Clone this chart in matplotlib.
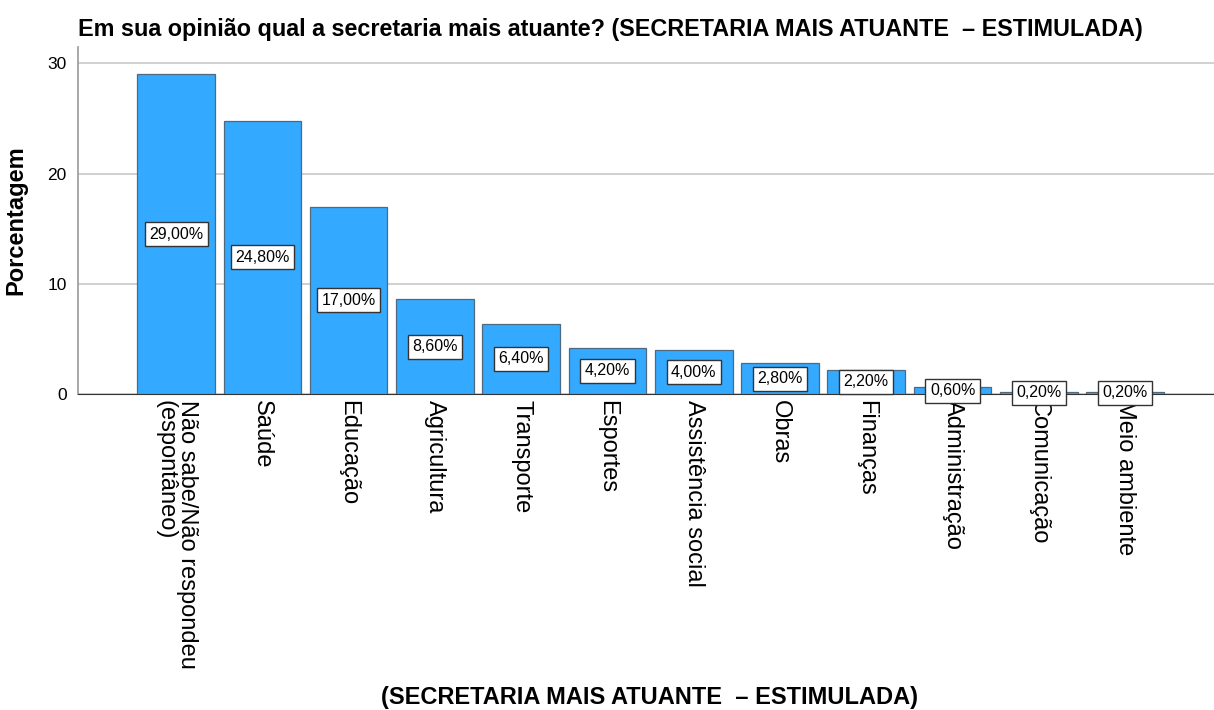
import matplotlib.pyplot as plt

# Data
categories = ['Não sabe/Não respondeu\n(espontâneo)', 'Saúde', 'Educação', 'Agricultura',
              'Transporte', 'Esportes', 'Assistência social', 'Obras', 'Finanças',
              'Administração', 'Comunicação', 'Meio ambiente']
values = [29.0, 24.8, 17.0, 8.6, 6.4, 4.2, 4.0, 2.8, 2.2, 0.6, 0.2, 0.2]
yticks = [0, 10, 20, 30]

plt.rcParams['font.family'] = ['Liberation Sans', 'DejaVu Sans']

fig = plt.figure(figsize=(12.14, 7.10), dpi=100)
ax = fig.add_axes([0.064, 0.445, 0.936, 0.489])

x = list(range(len(categories)))
ax.bar(x, values, width=0.9, color='#33aaff', edgecolor='#4d6a80', linewidth=0.9, zorder=3)

for xi, v in zip(x, values):
    ax.text(xi, v / 2, f'{v:.2f}%'.replace('.', ','), ha='center', va='center',
            fontsize=11.5, color='black', zorder=5,
            bbox=dict(boxstyle='square,pad=0.28', facecolor='white', edgecolor='#333333', linewidth=1))

ax.set_xlim(-1.14, 12.03)
ax.set_ylim(0, 31.5)
ax.set_yticks(yticks)
ax.set_yticklabels([str(t) for t in yticks], fontsize=12.5)
ax.yaxis.grid(True, color='#c8c8c8', linewidth=1.2, zorder=0)
ax.set_xticks(x)
ax.set_xticklabels(categories, rotation=270, fontsize=17, ha='center', va='top',
                   linespacing=1.0, multialignment='left')
ax.tick_params(axis='x', length=0, pad=4)
ax.tick_params(axis='y', length=0, pad=8)

for s in ['top', 'right']:
    ax.spines[s].set_visible(False)
ax.spines['left'].set_color('#999999')
ax.spines['left'].set_linewidth(1.2)
ax.spines['bottom'].set_color('#333333')

ax.set_ylabel('Porcentagem', fontsize=17, fontweight='bold', labelpad=14)
fig.text(0.535, 0.018, '(SECRETARIA MAIS ATUANTE  – ESTIMULADA)', ha='center', va='center',
         fontsize=17, fontweight='bold')
fig.text(0.503, 0.958, 'Em sua opinião qual a secretaria mais atuante? (SECRETARIA MAIS ATUANTE  – ESTIMULADA)',
         ha='center', va='center', fontsize=16.8, fontweight='bold')

fig.savefig('out.png', dpi=100)
